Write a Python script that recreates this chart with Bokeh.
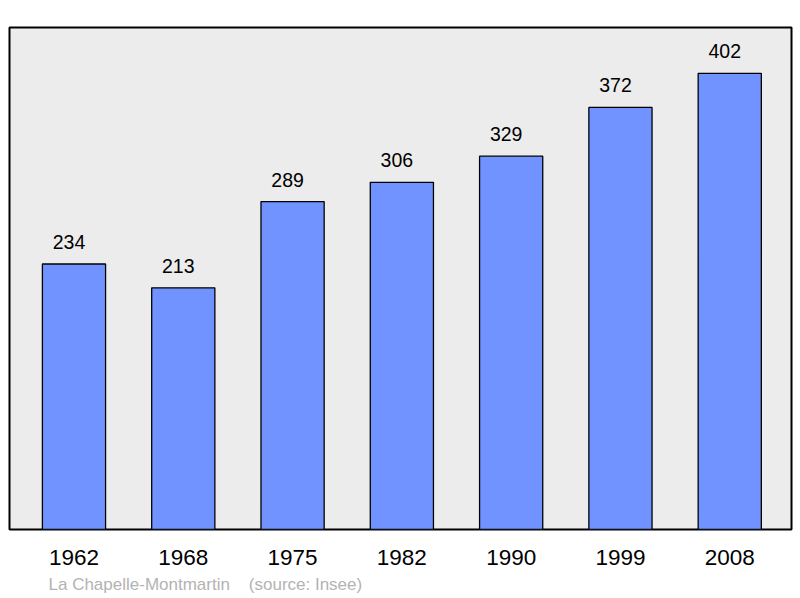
from bokeh.plotting import figure
from bokeh.models import ColumnDataSource, FixedTicker, Title, Range1d
from bokeh.core.properties import value
from bokeh.embed import file_html
from bokeh.resources import INLINE

years = ["1962", "1968", "1975", "1982", "1990", "1999", "2008"]
population = [234, 213, 289, 306, 329, 372, 402]
caption = "La Chapelle-Montmartin\u00a0\u00a0\u00a0\u00a0(source: Insee)"

idx = list(range(len(years)))
src = ColumnDataSource(dict(x=idx, top=population, lab=[str(v) for v in population]))

FONT = "Liberation Sans"

p = figure(width=800, height=598, output_backend="svg", toolbar_location=None,
           x_range=Range1d(-0.59, 6.565), y_range=Range1d(0, 442.4),
           min_border_left=9, min_border_right=9, min_border_top=27, min_border_bottom=0,
           background_fill_color="#ececec", border_fill_color="white")
p.outline_line_color = "black"
p.outline_line_width = 2
p.grid.visible = False
p.yaxis.visible = False

p.vbar(x="x", top="top", bottom=0, width=0.578, source=src,
       fill_color="#7093ff", line_color="black", line_width=1.3)
p.text(x="x", y="top", text="lab", source=src, y_offset=-15, x_offset=-5,
       text_align="center", text_baseline="bottom",
       text_font=value(FONT), text_font_size="19.5px", text_color="black")

ax = p.xaxis[0]
ax.ticker = FixedTicker(ticks=idx)
ax.major_label_overrides = {i: y for i, y in zip(idx, years)}
ax.axis_line_color = None
ax.major_tick_line_color = None
ax.minor_tick_line_color = None
ax.major_label_standoff = 14
ax.major_label_text_font = FONT
ax.major_label_text_font_size = "22.5px"
ax.major_label_text_color = "black"

t = Title(text=caption, align="left", offset=39, text_color="#b3b3b3",
          text_font=FONT, text_font_size="17px", text_font_style="normal")
p.add_layout(t, "below")

open("out.html", "w").write(file_html(p, INLINE))
